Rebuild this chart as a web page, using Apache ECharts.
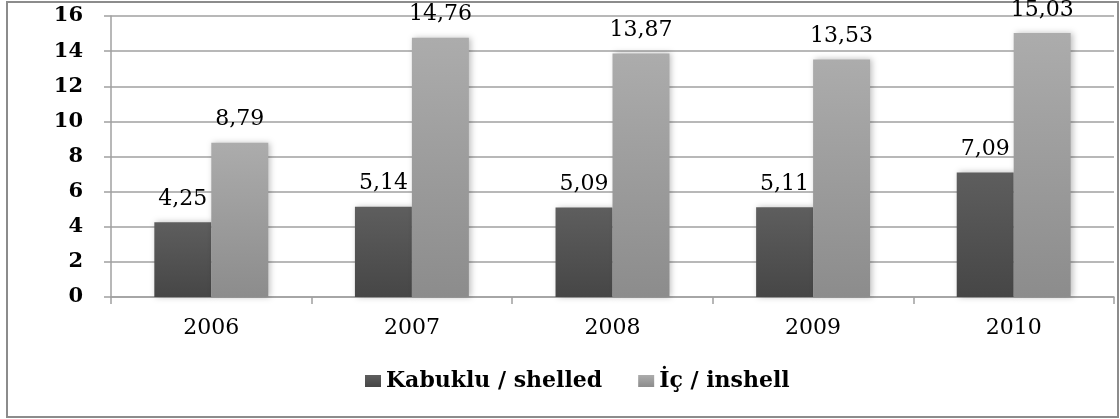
<!DOCTYPE html>
<html>
<head>
<meta charset="utf-8">
<script src="https://cdn.jsdelivr.net/npm/echarts@6/dist/echarts.min.js"></script>
<style>
  html, body { margin: 0; padding: 0; background: #fff; }
  #chart { width: 1120px; height: 419px; }
</style>
</head>
<body>
<div id="chart"></div>
<script>
var years = ["2006", "2007", "2008", "2009", "2010"];
var shelled = [4.25, 5.14, 5.09, 5.11, 7.09];
var inshell = [8.79, 14.76, 13.87, 13.53, 15.03];
var seriesNames = ["Kabuklu / shelled", "İç / inshell"];

var serif = "DejaVu Serif";

function fmt(p) {
  return p.value.toFixed(2).replace(".", ",");
}

function grad(top, bottom) {
  return new echarts.graphic.LinearGradient(0, 0, 0, 1, [
    { offset: 0, color: top },
    { offset: 1, color: bottom },
  ]);
}

var chart = echarts.init(document.getElementById("chart"));

chart.setOption({
  animation: false,
  graphic: [
    {
      type: "rect",
      shape: { x: 7, y: 2, width: 1111, height: 415 },
      style: { fill: "none", stroke: "#8c8c8c", lineWidth: 2 },
    },
  ],
  grid: { left: 111, right: 6, top: 16, bottom: 122 },
  legend: {
    bottom: 22,
    left: 360,
    icon: "rect",
    itemWidth: 16,
    itemHeight: 12,
    itemGap: 36,
    textStyle: { fontFamily: serif, fontSize: 22, fontWeight: "bold", color: "#000" },
    data: seriesNames,
  },
  xAxis: {
    type: "category",
    data: years,
    axisLine: { lineStyle: { color: "#a0a0a0", width: 1.5 } },
    axisTick: { show: true, length: 7, lineStyle: { color: "#a0a0a0", width: 1.5 } },
    axisLabel: { margin: 20, fontFamily: serif, fontSize: 22, color: "#000" },
  },
  yAxis: {
    type: "value",
    min: 0,
    max: 16,
    interval: 2,
    axisLine: { show: true, lineStyle: { color: "#a0a0a0", width: 1.5 } },
    axisTick: { show: true, length: 7, lineStyle: { color: "#a0a0a0", width: 1.5 } },
    splitLine: { lineStyle: { color: "#a0a0a0", width: 1.5 } },
    axisLabel: { margin: 28, fontFamily: serif, fontSize: 21, fontWeight: "bold", color: "#000" },
  },
  series: [
    {
      name: seriesNames[0],
      type: "bar",
      data: shelled,
      barWidth: "28.4%",
      barGap: "0%",
      itemStyle: {
        color: grad("#5e5e5e", "#464646"),
        shadowBlur: 6,
        shadowColor: "rgba(0,0,0,0.25)",
        shadowOffsetX: 2,
      },
      label: {
        show: true,
        position: "top",
        distance: 12,
        formatter: fmt,
        fontFamily: serif,
        fontSize: 22,
        color: "#000",
      },
    },
    {
      name: seriesNames[1],
      type: "bar",
      data: inshell,
      barWidth: "28.4%",
      itemStyle: {
        color: grad("#acacac", "#8c8c8c"),
        shadowBlur: 6,
        shadowColor: "rgba(0,0,0,0.25)",
        shadowOffsetX: 2,
      },
      label: {
        show: true,
        position: "top",
        distance: 12,
        formatter: fmt,
        fontFamily: serif,
        fontSize: 22,
        color: "#000",
      },
    },
  ],
});
</script>
</body>
</html>
